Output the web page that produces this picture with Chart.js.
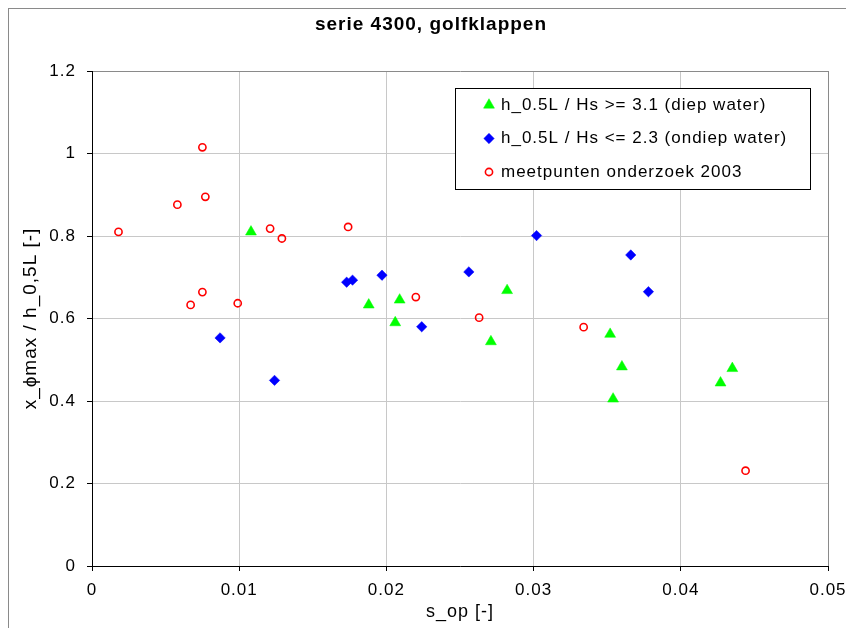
<!DOCTYPE html>
<html>
<head>
<meta charset="utf-8">
<script src="https://cdn.jsdelivr.net/npm/chart.js@4/dist/chart.umd.min.js"></script>
<style>
  html, body { margin: 0; padding: 0; background: #fff; overflow: hidden; }
  canvas { display: block; }
</style>
</head>
<body>
<canvas id="chart" width="846" height="628"></canvas>
<script>
// Texts
const chartTitle = 'serie 4300, golfklappen';
const xAxisTitle = 's_op [-]';
const yAxisTitle = 'x_\u03D5max / h_0,5L [-]';
const xTickLabels = ['0', '0.01', '0.02', '0.03', '0.04', '0.05'];
const yTickLabels = ['0', '0.2', '0.4', '0.6', '0.8', '1', '1.2'];

// Deep water tests
const deepLabel = 'h_0.5L / Hs >= 3.1 (diep water)';
const deepX = [0.0108, 0.0188, 0.0209, 0.0206, 0.0282, 0.0271, 0.0352, 0.0360, 0.0354, 0.0435, 0.0427];
const deepY = [0.810, 0.633, 0.645, 0.590, 0.668, 0.544, 0.562, 0.483, 0.405, 0.479, 0.444];

// Shallow water tests
const shallowLabel = 'h_0.5L / Hs <= 2.3 (ondiep water)';
const shallowX = [0.0087, 0.0124, 0.0173, 0.0177, 0.0197, 0.0224, 0.0256, 0.0302, 0.0366, 0.0378];
const shallowY = [0.553, 0.450, 0.688, 0.693, 0.705, 0.580, 0.713, 0.801, 0.754, 0.665];

// Measurements from the 2003 study
const surveyLabel = 'meetpunten onderzoek 2003';
const surveyX = [0.0018, 0.0058, 0.0075, 0.0077, 0.0121, 0.0129, 0.0174, 0.0075, 0.0067, 0.0099, 0.0220, 0.0263, 0.0334, 0.0444];
const surveyY = [0.810, 0.876, 1.015, 0.895, 0.818, 0.794, 0.822, 0.664, 0.633, 0.637, 0.652, 0.602, 0.579, 0.231];

const FONT = "'Liberation Sans', Arial, Helvetica, sans-serif";
const FS = 17;
const SPACING = '1px';
Chart.defaults.font.family = FONT;
Chart.defaults.font.size = FS;
Chart.defaults.color = '#000';

const toPoints = (xs, ys) => xs.map((x, i) => ({ x: x, y: ys[i] }));

// Slightly tracked lettering for every text on the canvas
const tracking = {
  id: 'tracking',
  beforeUpdate(chart) { chart.ctx.letterSpacing = SPACING; },
  beforeDraw(chart) { chart.ctx.letterSpacing = SPACING; }
};

// White page and the grey outer frame of the chart object
const framePlugin = {
  id: 'frame',
  beforeDraw(chart) {
    const c = chart.ctx;
    c.save();
    c.fillStyle = '#fff';
    c.fillRect(0, 0, chart.width, chart.height);
    c.strokeStyle = '#8a8a8a';
    c.lineWidth = 1;
    c.strokeRect(8.5, 8.5, chart.width + 20, chart.height + 20);
    c.restore();
  }
};

// Boxed legend inside the plot area, upper right
const boxLegend = {
  id: 'boxLegend',
  afterDraw(chart) {
    const c = chart.ctx;
    const a = chart.chartArea;
    const left = Math.round(a.left + 363) + 0.5;
    const top = Math.round(a.top + 17) + 0.5;
    const w = 355, h = 101;
    c.save();
    c.fillStyle = '#fff';
    c.fillRect(left, top, w, h);
    c.strokeStyle = '#000';
    c.lineWidth = 1;
    c.strokeRect(left, top, w, h);
    c.font = FS + 'px ' + FONT;
    c.textBaseline = 'middle';
    c.textAlign = 'left';
    chart.data.datasets.forEach((ds, i) => {
      const cy = top + 16.5 + i * 33.5;
      const mx = left + 33.5;
      c.fillStyle = ds.backgroundColor;
      c.strokeStyle = ds.borderColor;
      c.lineWidth = ds.borderWidth;
      Chart.helpers.drawPoint(c, {
        pointStyle: ds.pointStyle,
        radius: ds.pointRadius,
        borderWidth: ds.borderWidth,
        rotation: 0
      }, mx, cy);
      c.fillStyle = '#000';
      c.fillText(ds.label, left + 45.5, cy);
    });
    c.restore();
  }
};

new Chart(document.getElementById('chart'), {
  type: 'scatter',
  data: {
    datasets: [
      {
        label: deepLabel,
        data: toPoints(deepX, deepY),
        pointStyle: 'triangle',
        pointRadius: 6.3,
        backgroundColor: '#00ff00',
        borderColor: '#00ff00',
        borderWidth: 0.5
      },
      {
        label: shallowLabel,
        data: toPoints(shallowX, shallowY),
        pointStyle: 'rectRot',
        pointRadius: 5.2,
        backgroundColor: '#0000ff',
        borderColor: '#0000ff',
        borderWidth: 0.5
      },
      {
        label: surveyLabel,
        data: toPoints(surveyX, surveyY),
        pointStyle: 'circle',
        pointRadius: 3.6,
        backgroundColor: 'rgba(255,255,255,0)',
        borderColor: '#ff0000',
        borderWidth: 1.6
      }
    ]
  },
  options: {
    responsive: false,
    animation: false,
    devicePixelRatio: 1,
    layout: { padding: { left: 16, right: 0, top: 0, bottom: 0 } },
    plugins: {
      legend: { display: false },
      tooltip: { enabled: false },
      title: {
        display: true,
        text: chartTitle,
        color: '#000',
        font: { size: 19, weight: 'bold', family: FONT },
        padding: { top: 13.6, bottom: 34.6 }
      }
    },
    scales: {
      x: {
        type: 'linear',
        min: 0,
        max: 0.05,
        afterFit(scale) {
          scale.height = 62;
          scale.paddingLeft = 0;
          scale.paddingRight = 18;
        },
        ticks: {
          stepSize: 0.01,
          autoSkip: false,
          maxRotation: 0,
          padding: 9,
          callback: (v, i) => xTickLabels[i]
        },
        grid: {
          color: (ctx) => (ctx.tick && ctx.tick.value >= 0.0499) ? '#8a8a8a' : '#c8c8c8',
          lineWidth: 1,
          tickLength: 5,
          tickColor: '#000'
        },
        border: { color: '#000', width: 1 },
        title: {
          display: true,
          text: xAxisTitle,
          color: '#000',
          font: { size: 18, family: FONT },
          padding: { top: 0, bottom: 5 }
        }
      },
      y: {
        type: 'linear',
        min: 0,
        max: 1.2,
        afterFit(scale) {
          scale.width = 76;
          scale.paddingTop = 0;
          scale.paddingBottom = 0;
        },
        ticks: {
          stepSize: 0.2,
          autoSkip: false,
          padding: 11,
          callback: (v, i) => yTickLabels[i]
        },
        grid: {
          color: (ctx) => (ctx.tick && ctx.tick.value >= 1.199) ? '#8a8a8a' : '#c8c8c8',
          lineWidth: 1,
          tickLength: 5,
          tickColor: '#000'
        },
        border: { color: '#000', width: 1 },
        title: {
          display: true,
          text: yAxisTitle,
          color: '#000',
          font: { size: 19, family: FONT },
          padding: { top: 3.6, bottom: 0 }
        }
      }
    }
  },
  plugins: [tracking, framePlugin, boxLegend]
});
</script>
</body>
</html>
